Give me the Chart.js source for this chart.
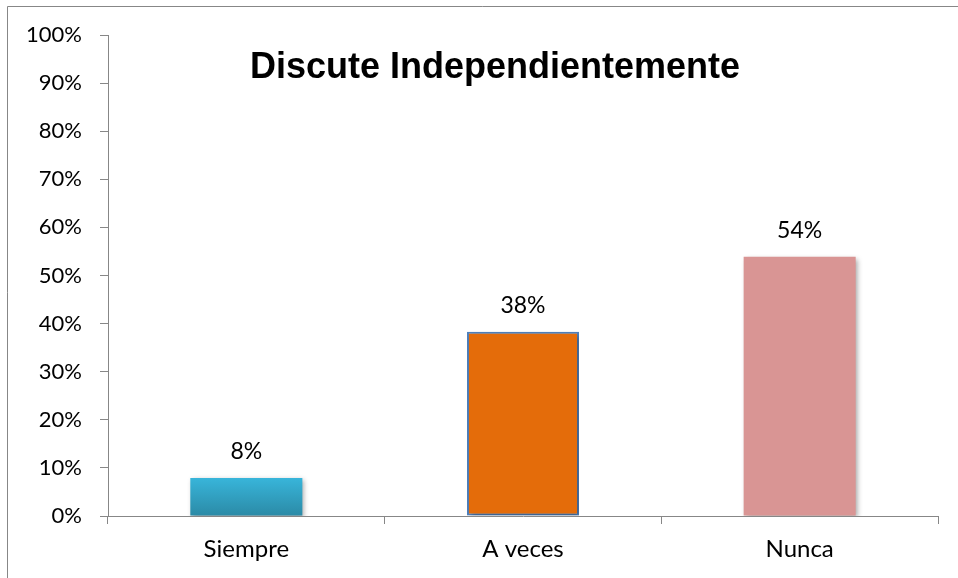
<!DOCTYPE html>
<html>
<head>
<meta charset="utf-8">
<script src="https://cdn.jsdelivr.net/npm/chart.js@4/dist/chart.umd.min.js"></script>
<style>
	html, body { margin: 0; padding: 0; background: #fff; }
	#wrap { width: 958px; height: 578px; position: relative; }
</style>
</head>
<body>
<div id="wrap"><canvas id="discuteChart"></canvas></div>
<script>
// datos del grafico
const categorias = ['Siempre', 'A veces', 'Nunca'];
const porcentajes = [7.9, 38.3, 53.9];
const etiquetas = ['8%', '38%', '54%'];
const yTicks = [0, 10, 20, 30, 40, 50, 60, 70, 80, 90, 100];

const titulo = 'Discute Independientemente';
const fuente = 'Lato';
const gris = '#878787';

var elem = document.getElementById('discuteChart');

// relleno de cada barra (la primera lleva degradado)
function colorBarra(ctx) {
	var chart = ctx.chart;
	if (ctx.dataIndex == 0) {
		var area = chart.chartArea;
		var yScale = chart.scales.y;
		if (!area || !yScale) return '#35aed2';
		var top = yScale.getPixelForValue(porcentajes[0]);
		if (!isFinite(top) || !isFinite(area.bottom)) return '#35aed2';
		var g = chart.ctx.createLinearGradient(0, top, 0, area.bottom);
		g.addColorStop(0, '#38b5da');
		g.addColorStop(1, '#2b8aa6');
		return g;
	}
	if (ctx.dataIndex == 1) return '#e46c0a';
	return '#d99594';
}

const config = {
	type: 'bar',
	data: {
		labels: categorias,
		datasets: [{
			data: porcentajes,
			backgroundColor: colorBarra,
			borderColor: ['rgba(0,0,0,0)', '#4f81bd', 'rgba(0,0,0,0)'],
			borderWidth: [0, 2, 0],
			borderSkipped: false,
			barPercentage: 0.405,
			categoryPercentage: 1
		}]
	},
	options: {
		responsive: true,
		maintainAspectRatio: false,
		animation: false,
		layout: {
			padding: { top: 35, right: 20, left: 0, bottom: 0 }
		},
		plugins: {
			legend: { display: false },
			tooltip: { enabled: false },
			title: { display: false }
		},
		scales: {
			x: {
				offset: true,
				grid: {
					offset: true,
					drawOnChartArea: false,
					drawTicks: true,
					tickLength: 8,
					color: gris
				},
				border: { display: true, color: gris, width: 1 },
				ticks: {
					color: '#000',
					padding: 11,
					font: { family: fuente, size: 24 }
				},
				afterFit: function(scale) { scale.height = 62; }
			},
			y: {
				min: 0,
				max: 100,
				afterBuildTicks: function(scale) {
					scale.ticks = yTicks.map(v => ({ value: v }));
				},
				grid: {
					drawOnChartArea: false,
					drawTicks: true,
					tickLength: 8,
					color: gris
				},
				border: { display: true, color: gris, width: 1 },
				ticks: {
					color: '#000',
					padding: 18,
					font: { family: fuente, size: 22 },
					callback: function(v) { return v + '%'; }
				},
				afterFit: function(scale) { scale.width = 108; }
			}
		}
	},
	plugins: [{
		id: 'marco',
		beforeDraw: function(chart) {
			var ctx = chart.ctx;
			ctx.save();
			ctx.strokeStyle = gris;
			ctx.lineWidth = 1;
			ctx.beginPath();
			ctx.moveTo(7.5, chart.height);
			ctx.lineTo(7.5, 6.5);
			ctx.lineTo(chart.width, 6.5);
			ctx.stroke();
			ctx.restore();
		}
	}, {
		id: 'sombra',
		beforeDatasetsDraw: function(chart) {
			var ctx = chart.ctx;
			ctx.save();
			ctx.shadowColor = 'rgba(0,0,0,0.35)';
			ctx.shadowBlur = 5;
			ctx.shadowOffsetX = 2;
			ctx.shadowOffsetY = 2;
		},
		afterDatasetsDraw: function(chart) {
			chart.ctx.restore();
		}
	}, {
		id: 'textos',
		afterDraw: function(chart) {
			var ctx = chart.ctx;
			ctx.save();
			// etiquetas de valor
			ctx.fillStyle = '#000';
			ctx.font = '23px ' + fuente;
			ctx.textAlign = 'center';
			ctx.textBaseline = 'alphabetic';
			chart.getDatasetMeta(0).data.forEach((bar, i) => {
				ctx.fillText(etiquetas[i], bar.x, bar.y - 19);
			});
			// titulo dentro del area
			ctx.font = 'bold 36px "Liberation Sans", Arial, sans-serif';
			ctx.fillText(titulo, 495, 78);
			ctx.restore();
		}
	}]
};

var chart = new Chart(elem, config);
</script>
</body>
</html>
